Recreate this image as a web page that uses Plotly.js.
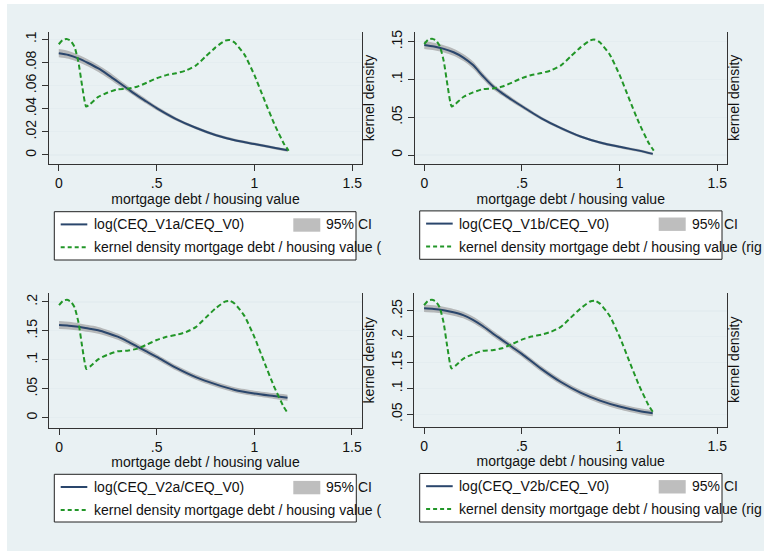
<!DOCTYPE html>
<html>
<head>
<meta charset="utf-8">
<script src="https://cdn.plot.ly/plotly-3.0.1.min.js"></script>
<style>
  html, body { margin: 0; padding: 0; background: #ffffff; }
  #chart { width: 764px; height: 551px; }
</style>
</head>
<body>
<div id="chart"></div>
<script>
// ---- data -------------------------------------------------------------
// grid of mortgage debt / housing value used for the welfare curves
const ltvGrid = [0, 0.05, 0.1, 0.15, 0.2, 0.25, 0.3, 0.35, 0.4, 0.45, 0.5, 0.6, 0.7, 0.8, 0.9, 1.0, 1.1, 1.17];

// log(CEQ_V1a/CEQ_V0) with 95% CI
const ceqV1a   = [0.088, 0.0865, 0.0835, 0.0795, 0.075, 0.0695, 0.0635, 0.0575, 0.0515, 0.046, 0.0405, 0.031, 0.0235, 0.0173, 0.0128, 0.0095, 0.0062, 0.004];
const ciLoV1a  = [0.0845, 0.0832, 0.0804, 0.0765, 0.072, 0.0665, 0.0607, 0.055, 0.0493, 0.044, 0.0387, 0.0295, 0.0222, 0.0161, 0.0116, 0.0083, 0.005, 0.0028];
const ciHiV1a  = [0.0915, 0.0898, 0.0866, 0.0825, 0.078, 0.0725, 0.0663, 0.06, 0.0537, 0.048, 0.0423, 0.0325, 0.0248, 0.0185, 0.014, 0.0107, 0.0074, 0.0052];

// log(CEQ_V1b/CEQ_V0) with 95% CI
const ceqV1b   = [0.1456, 0.1435, 0.1405, 0.136, 0.129, 0.119, 0.1045, 0.0913, 0.0816, 0.0728, 0.0645, 0.0485, 0.0355, 0.0245, 0.0165, 0.0108, 0.0058, 0.0015];
const ciLoV1b  = [0.1403, 0.1385, 0.1357, 0.1313, 0.1243, 0.1143, 0.1002, 0.0875, 0.0783, 0.0698, 0.0618, 0.0462, 0.0335, 0.0227, 0.0147, 0.009, 0.004, -0.0003];
const ciHiV1b  = [0.1509, 0.1485, 0.1453, 0.1407, 0.1337, 0.1237, 0.1088, 0.0951, 0.0849, 0.0758, 0.0672, 0.0508, 0.0375, 0.0263, 0.0183, 0.0126, 0.0076, 0.0033];

// log(CEQ_V2a/CEQ_V0) with 95% CI
const ceqV2a   = [0.160, 0.159, 0.157, 0.154, 0.151, 0.146, 0.140, 0.132, 0.123, 0.114, 0.105, 0.086, 0.070, 0.058, 0.048, 0.042, 0.0375, 0.0345];
const ciLoV2a  = [0.1531, 0.1524, 0.1508, 0.148, 0.1452, 0.1404, 0.1345, 0.1267, 0.1178, 0.109, 0.1002, 0.0815, 0.0655, 0.0535, 0.0435, 0.0373, 0.0325, 0.0293];
const ciHiV2a  = [0.1669, 0.1656, 0.1632, 0.160, 0.1568, 0.1516, 0.1455, 0.1373, 0.1282, 0.119, 0.1098, 0.0905, 0.0745, 0.0625, 0.0525, 0.0467, 0.0425, 0.0397];

// log(CEQ_V2b/CEQ_V0) with 95% CI
const ceqV2b   = [0.2552, 0.254, 0.2515, 0.2475, 0.242, 0.233, 0.221, 0.207, 0.1937, 0.1803, 0.167, 0.138, 0.1125, 0.092, 0.0765, 0.065, 0.0565, 0.052];
const ciLoV2b  = [0.248, 0.247, 0.2448, 0.241, 0.2357, 0.2268, 0.215, 0.2012, 0.188, 0.1747, 0.1615, 0.1325, 0.107, 0.0865, 0.071, 0.0594, 0.0507, 0.046];
const ciHiV2b  = [0.2624, 0.261, 0.2582, 0.254, 0.2483, 0.2392, 0.227, 0.2128, 0.1994, 0.1859, 0.1725, 0.1435, 0.118, 0.0975, 0.082, 0.0706, 0.0623, 0.058];

// kernel density of mortgage debt / housing value (right axis)
const densX = [0, 0.02, 0.04, 0.06, 0.08, 0.1, 0.12, 0.14, 0.16, 0.2, 0.25, 0.3, 0.35, 0.4, 0.45, 0.5, 0.55, 0.6, 0.65, 0.7, 0.75, 0.8, 0.85, 0.875, 0.9, 0.95, 1.0, 1.05, 1.1, 1.15, 1.175];
const densY = [0.0957, 0.0994, 0.1003, 0.0988, 0.0937, 0.0807, 0.059, 0.0418, 0.044, 0.050, 0.054, 0.0568, 0.0573, 0.059, 0.0625, 0.0663, 0.069, 0.0706, 0.073, 0.0772, 0.085, 0.0928, 0.0988, 0.0994, 0.097, 0.0865, 0.069, 0.048, 0.0274, 0.010, 0.0037];

// axis ticks
const xTickVals = [0, 0.5, 1, 1.5];
const xTickText = ['0', '.5', '1', '1.5'];
const yTickValsV1a = [0, 0.02, 0.04, 0.06, 0.08, 0.1];
const yTickTextV1a = ['0', '.02', '.04', '.06', '.08', '.1'];
const yTickValsV1b = [0, 0.05, 0.1, 0.15];
const yTickTextV1b = ['0', '.05', '.1', '.15'];
const yTickValsV2a = [0, 0.05, 0.1, 0.15, 0.2];
const yTickTextV2a = ['0', '.05', '.1', '.15', '.2'];
const yTickValsV2b = [0.05, 0.1, 0.15, 0.2, 0.25];
const yTickTextV2b = ['.05', '.1', '.15', '.2', '.25'];

// legend labels (the density label runs past the legend frame and is cut by the page)
const seriesNames = ['log(CEQ_V1a/CEQ_V0)', 'log(CEQ_V1b/CEQ_V0)', 'log(CEQ_V2a/CEQ_V0)', 'log(CEQ_V2b/CEQ_V0)'];
const ciLabel = '95% CI';
const densLabels = [
  'kernel density mortgage debt / housing value (',
  'kernel density mortgage debt / housing value (rig',
  'kernel density mortgage debt / housing value (',
  'kernel density mortgage debt / housing value (rig'
];

// ---- styling / layout ---------------------------------------------------
const W = 764, H = 551;
const FONT = '"Liberation Sans", Arial, sans-serif';
const BG = 'rgb(233,241,243)';
const NAVY = 'rgb(42,70,108)';
const GREEN = 'rgb(34,150,40)';
const CI_FILL = 'rgba(160,160,160,0.7)';
const AXIS_COL = '#333333';
const GRID_COL = 'rgb(228,237,240)';

const px = v => v / W;
const py = v => 1 - v / H;

// plot-area boxes (pixels: left, right, top, bottom) and legend boxes
const panels = [
  { mean: ceqV1a, lo: ciLoV1a, hi: ciHiV1a, tv: yTickValsV1a, tt: yTickTextV1a, yr: [-0.0078, 0.1063],
    box: [49, 362, 32, 164], leg: [54.3, 211.7, 356, 260] },
  { mean: ceqV1b, lo: ciLoV1b, hi: ciHiV1b, tv: yTickValsV1b, tt: yTickTextV1b, yr: [-0.0119, 0.1632],
    box: [414.5, 727, 31.7, 164], leg: [419.7, 210.9, 722, 259.3] },
  { mean: ceqV2a, lo: ciLoV2a, hi: ciHiV2a, tv: yTickValsV2a, tt: yTickTextV2a, yr: [-0.0173, 0.216],
    box: [49.3, 361.7, 292.7, 427.7], leg: [54.3, 474.3, 356.3, 522] },
  { mean: ceqV2b, lo: ciLoV2b, hi: ciHiV2b, tv: yTickValsV2b, tt: yTickTextV2b, yr: [0.026, 0.2854],
    box: [414.3, 727, 292.7, 426.7], leg: [419.7, 473.5, 722, 522] }
];
const densRange = [-0.0078, 0.1063];

const traces = [];
const layout = {
  width: W, height: H,
  margin: { l: 0, r: 0, t: 0, b: 0 },
  paper_bgcolor: '#ffffff',
  plot_bgcolor: '#ffffff',
  showlegend: false,
  font: { family: FONT, size: 14, color: '#111111' },
  shapes: [
    { type: 'rect', xref: 'paper', yref: 'paper', layer: 'below',
      x0: px(7), x1: 1, y0: 0, y1: py(4), fillcolor: BG, line: { width: 0 } }
  ],
  annotations: []
};

panels.forEach((p, i) => {
  const n = i + 1;
  const xa = n === 1 ? 'x' : 'x' + n;
  const ya = n === 1 ? 'y' : 'y' + n;
  const yr = 'y' + (n + 4);
  const xKey = n === 1 ? 'xaxis' : 'xaxis' + n;
  const yKey = n === 1 ? 'yaxis' : 'yaxis' + n;
  const rKey = 'yaxis' + (n + 4);
  const [L, R, T, B] = p.box;

  // CI band
  traces.push({ x: ltvGrid, y: p.lo, xaxis: xa, yaxis: ya, type: 'scatter', mode: 'lines',
    line: { width: 0, shape: 'spline', smoothing: 0.8 }, hoverinfo: 'skip' });
  traces.push({ x: ltvGrid, y: p.hi, xaxis: xa, yaxis: ya, type: 'scatter', mode: 'lines',
    fill: 'tonexty', fillcolor: CI_FILL,
    line: { width: 0, shape: 'spline', smoothing: 0.8 }, name: ciLabel });
  // fitted welfare curve
  traces.push({ x: ltvGrid, y: p.mean, xaxis: xa, yaxis: ya, type: 'scatter', mode: 'lines',
    line: { color: NAVY, width: 2, shape: 'spline', smoothing: 0.8 }, name: seriesNames[i] });
  // kernel density on the right axis
  traces.push({ x: densX, y: densY, xaxis: xa, yaxis: yr, type: 'scatter', mode: 'lines',
    line: { color: GREEN, width: 2, dash: '5px,3px', shape: 'spline', smoothing: 0.5 }, name: densLabels[i] });

  layout[xKey] = {
    domain: [px(L), px(R)], anchor: ya, range: [-0.05, 1.55],
    tickvals: xTickVals, ticktext: xTickText,
    ticks: 'outside', ticklen: 6, tickcolor: AXIS_COL, tickwidth: 1,
    showline: true, linecolor: AXIS_COL, linewidth: 1,
    showgrid: false, zeroline: false, automargin: false,
    tickfont: { family: FONT, size: 14, color: '#111111' },
    title: { text: 'mortgage debt / housing value', standoff: 1,
             font: { family: FONT, size: 14, color: '#111111' } }
  };
  layout[yKey] = {
    domain: [py(B), py(T)], anchor: xa, range: p.yr,
    tickvals: p.tv, ticktext: p.tt, tickangle: -90,
    ticks: 'outside', ticklen: 6, tickcolor: AXIS_COL, tickwidth: 1,
    showline: true, linecolor: AXIS_COL, linewidth: 1,
    showgrid: true, gridcolor: GRID_COL, gridwidth: 1.2,
    zeroline: false, automargin: false,
    tickfont: { family: FONT, size: 14, color: '#111111' }
  };
  layout[rKey] = {
    overlaying: ya, anchor: xa, side: 'right', range: densRange,
    showticklabels: false, ticks: '', showgrid: false, zeroline: false,
    showline: true, linecolor: AXIS_COL, linewidth: 1, automargin: false,
    title: { text: 'kernel density', standoff: 2,
             font: { family: FONT, size: 14, color: '#111111' } }
  };

  // legend box below each panel
  const [lx, ly, rx, by] = p.leg;
  layout.shapes.push(
    { type: 'rect', xref: 'paper', yref: 'paper', x0: px(lx), x1: px(rx), y0: py(by), y1: py(ly),
      fillcolor: '#ffffff', line: { color: '#222222', width: 1 } },
    { type: 'line', xref: 'paper', yref: 'paper', x0: px(lx + 6.4), x1: px(lx + 33), y0: py(ly + 12.7), y1: py(ly + 12.7),
      line: { color: NAVY, width: 2 } },
    { type: 'rect', xref: 'paper', yref: 'paper', x0: px(lx + 239), x1: px(lx + 266), y0: py(ly + 20), y1: py(ly + 6.6),
      fillcolor: 'rgb(190,190,190)', line: { width: 0 } },
    { type: 'line', xref: 'paper', yref: 'paper', x0: px(lx + 6.4), x1: px(lx + 33), y0: py(ly + 35.6), y1: py(ly + 35.6),
      line: { color: GREEN, width: 2, dash: '4px,3px' } }
  );
  const legFont = { family: FONT, size: 14, color: '#111111' };
  layout.annotations.push(
    { xref: 'paper', yref: 'paper', x: px(lx + 37.5), y: py(ly + 12.7), xanchor: 'left', yanchor: 'middle',
      text: seriesNames[i], showarrow: false, font: legFont },
    { xref: 'paper', yref: 'paper', x: px(lx + 270), y: py(ly + 12.7), xanchor: 'left', yanchor: 'middle',
      text: ciLabel, showarrow: false, font: legFont },
    { xref: 'paper', yref: 'paper', x: px(lx + 37.5), y: py(ly + 35.6), xanchor: 'left', yanchor: 'middle',
      text: densLabels[i], showarrow: false, font: legFont }
  );
});

Plotly.newPlot('chart', traces, layout, { staticPlot: true, displayModeBar: false });
</script>
</body>
</html>
